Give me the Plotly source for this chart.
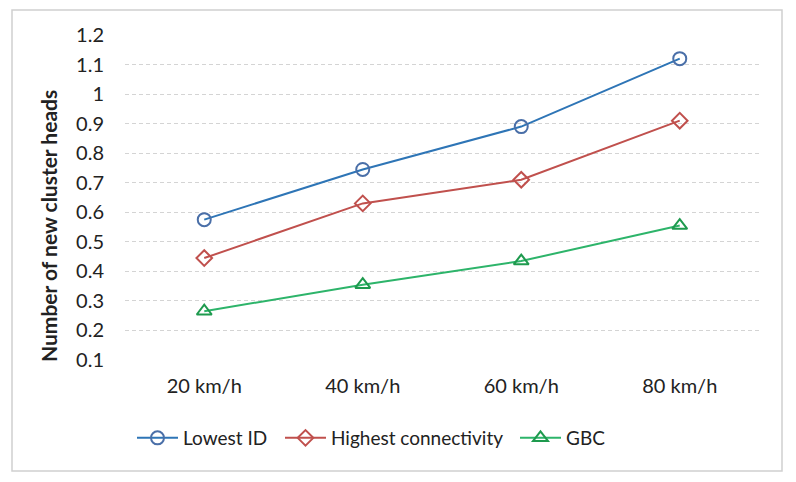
import plotly.graph_objects as go

categories = ["20 km/h", "40 km/h", "60 km/h", "80 km/h"]
lowest_id = [0.575, 0.745, 0.89, 1.12]
highest_conn = [0.445, 0.63, 0.71, 0.91]
gbc = [0.265, 0.355, 0.435, 0.555]
y_ticks = [0.1, 0.2, 0.3, 0.4, 0.5, 0.6, 0.7, 0.8, 0.9, 1.0, 1.1, 1.2]
y_tick_text = ["0.1", "0.2", "0.3", "0.4", "0.5", "0.6", "0.7", "0.8", "0.9", "1", "1.1", "1.2"]
y_title = "Number of new cluster heads"

FONT = "Lato, 'Open Sans', sans-serif"
FS = 20
LFS = 19

fig = go.Figure()
fig.add_trace(go.Scatter(
    x=categories, y=lowest_id, name="Lowest ID", mode="lines+markers", legend="legend",
    line=dict(color="#2E75B6", width=2),
    marker=dict(symbol="circle-open", size=13, color="#4A6FA8", line=dict(width=2, color="#4A6FA8")),
))
fig.add_trace(go.Scatter(
    x=categories, y=highest_conn, name="Highest connectivity", mode="lines+markers", legend="legend2",
    line=dict(color="#C0504D", width=2),
    marker=dict(symbol="diamond-open", size=12, color="#C0504D", line=dict(width=2, color="#C0504D")),
))
fig.add_trace(go.Scatter(
    x=categories, y=gbc, name="GBC", mode="lines+markers", legend="legend3",
    line=dict(color="#2DB46A", width=2),
    marker=dict(symbol="triangle-up-open", size=13, color="#1E9A4E", line=dict(width=2, color="#1E9A4E")),
))

L, R, T, B = 125, 759, 35, 360
W, H = 796, 482
pw, ph = R - L, B - T


def leg(px):
    return dict(orientation="h", x=(px - L) / pw, xanchor="left", y=-(438 - B) / ph, yanchor="middle",
                font=dict(size=LFS, family=FONT, color="#222222"), itemwidth=41, bgcolor="rgba(0,0,0,0)")


fig.update_layout(
    width=W, height=H,
    margin=dict(l=L, r=W - R, t=T, b=H - B),
    paper_bgcolor="white", plot_bgcolor="white",
    font=dict(family=FONT, size=FS, color="#222222"),
    showlegend=True,
    legend=leg(132), legend2=leg(280), legend3=leg(515),
    xaxis=dict(type="category", range=[-0.5, 3.5], showgrid=False, showline=False, zeroline=False,
               ticks="", tickfont=dict(size=FS, family=FONT), ticklabelstandoff=12),
    yaxis=dict(range=[0.1, 1.2], tickvals=y_ticks, ticktext=y_tick_text, showgrid=True,
               gridcolor="#D4D4D4", griddash="4px,3px", gridwidth=1, zeroline=False, showline=False,
               ticks="", tickfont=dict(size=FS, family=FONT), ticklabelstandoff=20),
    annotations=[dict(text="<b>" + y_title + "</b>", xref="paper", yref="paper",
                      x=(48 - L) / pw, y=(B - 226) / ph, xanchor="center", yanchor="middle",
                      textangle=-90, showarrow=False, font=dict(size=21, family=FONT, color="#222222"))],
    shapes=[dict(type="rect", xref="paper", yref="paper",
                 x0=(12 - L) / pw, x1=(782 - L) / pw,
                 y0=(B - 471) / ph, y1=(B - 10) / ph,
                 line=dict(color="#D0D0D0", width=1.5), fillcolor="rgba(0,0,0,0)", layer="below")],
)

fig.write_html("out.html")
